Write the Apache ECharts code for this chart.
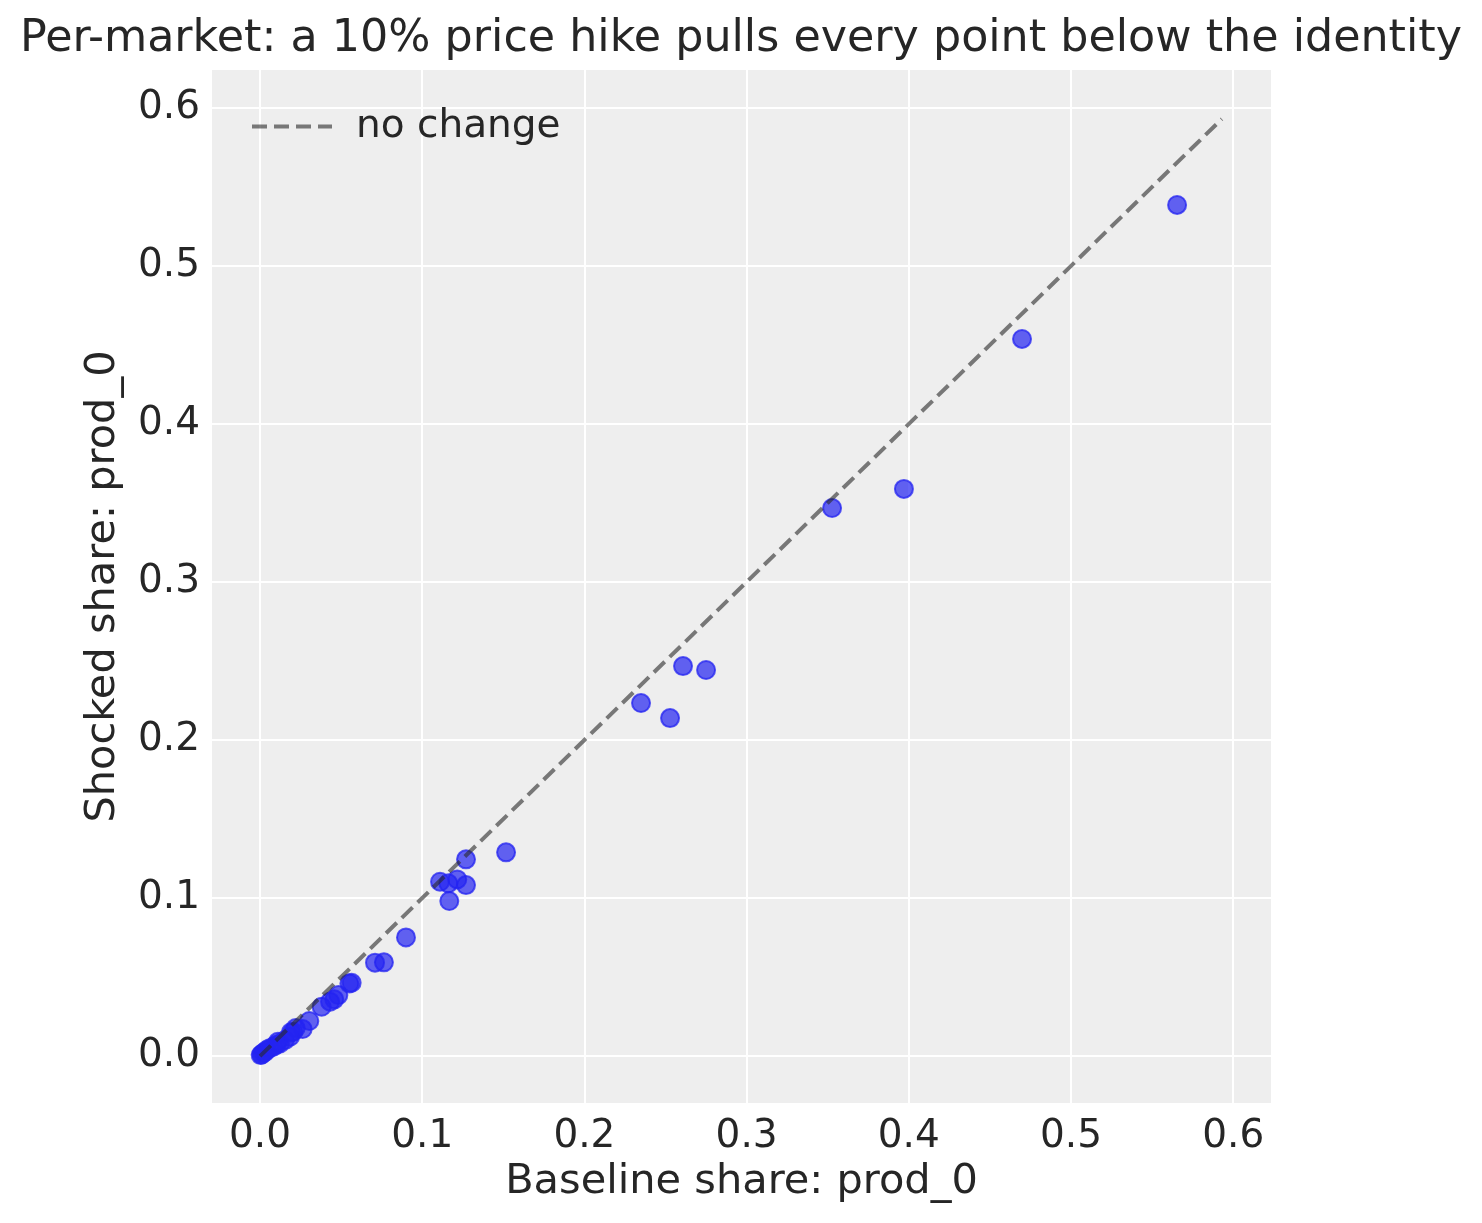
<!DOCTYPE html>
<html>
<head>
<meta charset="utf-8">
<script src="https://cdn.jsdelivr.net/npm/echarts@6/dist/echarts.min.js"></script>
<style>
  html, body { margin: 0; padding: 0; background: #fff; }
  #chart { width: 1482px; height: 1223px; }
</style>
</head>
<body>
<div id="chart"></div>
<script>
// baseline vs shocked share, one point per market
var baseShare = [0.5654, 0.4698, 0.397, 0.3527, 0.2608, 0.275, 0.2349, 0.2528, 0.1517, 0.127,
  0.111, 0.1161, 0.1216, 0.127, 0.1167, 0.09, 0.0709, 0.0764, 0.0565, 0.0551,
  0.0483, 0.0458, 0.0432, 0.038, 0.0304, 0.0263, 0.0205, 0.0185, 0.0123, 0.0082,
  0.0041, 0.0004, 0.0154, 0.0099, 0.0018, 0.022, 0.001, 0.003, 0.006, 0.011, 0.019];
var shockShare = [0.5386, 0.4538, 0.3589, 0.3468, 0.2468, 0.2443, 0.2234, 0.2139, 0.1289, 0.1245,
  0.1103, 0.1093, 0.1118, 0.1082, 0.0981, 0.0751, 0.0591, 0.0593, 0.0464, 0.046,
  0.0386, 0.0359, 0.0344, 0.0312, 0.0222, 0.0171, 0.0154, 0.0122, 0.008, 0.0059,
  0.0038, 0.0006, 0.0101, 0.007, 0.0019, 0.0177, 0.001, 0.0025, 0.005, 0.009, 0.015];
var identityEnds = [0, 0.593];
var tickValues = [0, 0.1, 0.2, 0.3, 0.4, 0.5, 0.6];

var points = [];
for (var i = 0; i < baseShare.length; i++) {
	points.push([baseShare[i], shockShare[i]]);
}
var identity = identityEnds.map(function (v) { return [v, v]; });

var font = 'DejaVu Sans';
var txt = '#262626';
var dashStyle = { color: 'rgba(40,40,40,0.6)', width: 4, type: [15, 7] };

function makeAxis(name, min, max, isY) {
	return {
		type: 'value',
		min: min,
		max: max,
		name: name,
		nameLocation: 'middle',
		nameGap: isY ? 88 : 56,
		nameTextStyle: { fontFamily: font, fontSize: 41.5, color: txt },
		axisLine: { show: false },
		axisTick: { show: false, customValues: tickValues },
		axisLabel: {
			customValues: tickValues,
			fontFamily: font, fontSize: 39, color: txt,
			margin: isY ? 12 : 14,
			formatter: function (v) { return v.toFixed(1); }
		},
		splitLine: { show: true, lineStyle: { color: '#ffffff', width: 2 } }
	};
}

var myChart = echarts.init(document.getElementById('chart'));
var option = {
	backgroundColor: '#ffffff',
	animation: false,
	title: {
		text: 'Per-market: a 10% price hike pulls every point below the identity',
		left: 'center',
		top: 12,
		textStyle: { fontFamily: font, fontSize: 44.4, fontWeight: 'normal', color: txt }
	},
	grid: {
		left: 212, right: 211, top: 70, bottom: 120,
		show: true, backgroundColor: '#eeeeee', borderWidth: 0
	},
	legend: {
		data: ['no change'],
		left: 245,
		top: 102,
		itemWidth: 80,
		itemHeight: 20,
		itemStyle: { opacity: 0 },
		lineStyle: dashStyle,
		textStyle: { fontFamily: font, fontSize: 39, color: txt, padding: [0, 0, 0, 19] }
	},
	xAxis: makeAxis('Baseline share: prod_0', -0.0296, 0.6233, false),
	yAxis: makeAxis('Shocked share: prod_0', -0.0297, 0.624, true),
	series: [
		{
			name: 'markets',
			type: 'scatter',
			data: points,
			symbolSize: 18,
			z: 2,
			itemStyle: {
				opacity: 1,
				color: 'rgba(35,35,241,0.7)',
				borderColor: 'rgba(35,35,241,0.75)',
				borderWidth: 2
			}
		},
		{
			name: 'no change',
			type: 'line',
			data: identity,
			symbol: 'none',
			z: 3,
			lineStyle: dashStyle
		}
	]
};
myChart.setOption(option);
</script>
</body>
</html>
